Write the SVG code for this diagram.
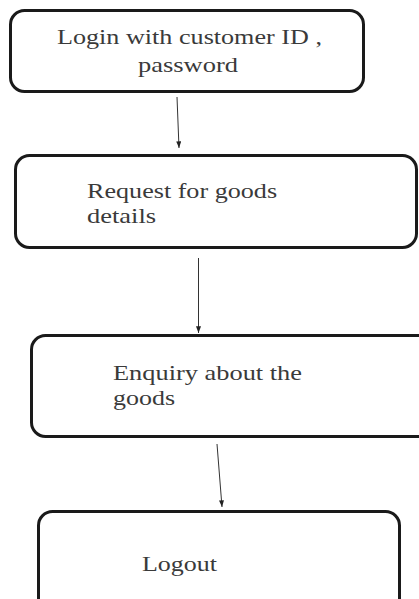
<svg xmlns="http://www.w3.org/2000/svg" width="419" height="599" viewBox="0 0 419 599">
<defs>
<style>
.box{fill:#fff;stroke:#1a1a1a;stroke-width:3}
.t{font-family:"Liberation Serif","Times New Roman",serif;font-size:20px;fill:#3a3a3a}
.c{stroke:#333;stroke-width:1;fill:none;marker-end:url(#ah)}
</style>
<marker id="ah" viewBox="0 0 8 6" refX="8" refY="3" markerWidth="7" markerHeight="5" orient="auto" markerUnits="userSpaceOnUse">
<path d="M0,0 L8,3 L0,6 Z" fill="#222"/>
</marker>
</defs>
<rect width="419" height="599" fill="#fff"/>
<g id="n1">
<rect class="box" x="10.5" y="10.5" width="353" height="81" rx="14"/>
<text class="t" transform="translate(57,44) scale(1.3,1)" textLength="203.8" lengthAdjust="spacingAndGlyphs">Login with customer ID ,</text>
<text class="t" transform="translate(138,72) scale(1.3,1)" textLength="76.9" lengthAdjust="spacingAndGlyphs">password</text>
</g>
<g id="n2">
<rect class="box" x="15.5" y="155.5" width="401" height="92" rx="14"/>
<text class="t" transform="translate(87,198) scale(1.3,1)" textLength="146.2" lengthAdjust="spacingAndGlyphs">Request for goods</text>
<text class="t" transform="translate(87,223) scale(1.3,1)" textLength="53.1" lengthAdjust="spacingAndGlyphs">details</text>
</g>
<g id="n3">
<rect class="box" x="31.5" y="335.5" width="400" height="101" rx="14"/>
<text class="t" transform="translate(113,380) scale(1.3,1)" textLength="145.4" lengthAdjust="spacingAndGlyphs">Enquiry about the</text>
<text class="t" transform="translate(113,405) scale(1.3,1)" textLength="47.7" lengthAdjust="spacingAndGlyphs">goods</text>
</g>
<g id="n4">
<rect class="box" x="38.5" y="511.5" width="361" height="110" rx="14"/>
<text class="t" transform="translate(142,571) scale(1.3,1)" textLength="57.7" lengthAdjust="spacingAndGlyphs">Logout</text>
</g>
<g id="connectors">
<line class="c" x1="177" y1="97" x2="179" y2="148"/>
<line class="c" x1="198.5" y1="258" x2="198.5" y2="333"/>
<line class="c" x1="217" y1="444" x2="222" y2="507"/>
</g>
</svg>
